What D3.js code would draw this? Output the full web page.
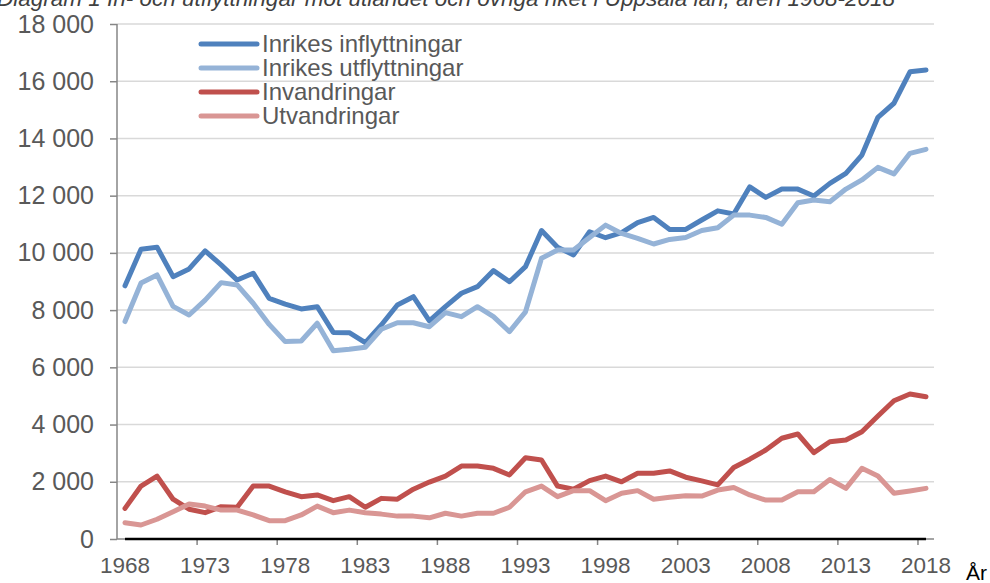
<!DOCTYPE html>
<html>
<head>
<meta charset="utf-8">
<script src="https://cdn.jsdelivr.net/npm/d3@7"></script>
<style>
    body { margin: 0; background: #fff; }
    svg { display: block; font-family: "Liberation Sans", Arial, sans-serif; }
</style>
</head>
<body>
<svg id="chart" width="990" height="583"></svg>
<script>
// categories
const years = [1968, 1969, 1970, 1971, 1972, 1973, 1974, 1975, 1976, 1977, 1978, 1979, 1980, 1981, 1982, 1983, 1984,
    1985, 1986, 1987, 1988, 1989, 1990, 1991, 1992, 1993, 1994, 1995, 1996, 1997, 1998, 1999, 2000, 2001,
    2002, 2003, 2004, 2005, 2006, 2007, 2008, 2009, 2010, 2011, 2012, 2013, 2014, 2015, 2016, 2017, 2018];

// series values
const inrikesInflytt = [8850, 10130, 10200, 9170, 9440, 10070, 9580, 9050, 9290, 8410, 8210, 8040, 8120, 7220, 7210, 6860, 7480,
    8180, 8470, 7620, 8120, 8590, 8820, 9380, 8990, 9520, 10780, 10200, 9930, 10740, 10530, 10710, 11060, 11240,
    10820, 10820, 11150, 11470, 11360, 12310, 11940, 12230, 12230, 11990, 12430, 12780, 13420, 14740, 15230, 16330, 16390];
const inrikesUtflytt = [7600, 8950, 9230, 8130, 7830, 8350, 8960, 8880, 8240, 7500, 6900, 6920, 7540, 6580, 6630, 6700, 7330,
    7560, 7560, 7420, 7910, 7770, 8120, 7770, 7250, 7940, 9810, 10100, 10100, 10540, 10970, 10680, 10510, 10310,
    10470, 10540, 10780, 10880, 11320, 11320, 11240, 11000, 11750, 11850, 11790, 12230, 12550, 12990, 12760, 13480, 13620];
const invandringar = [1070, 1850, 2200, 1390, 1040, 920, 1130, 1110, 1850, 1850, 1650, 1480, 1540, 1340, 1480, 1110, 1420,
    1390, 1740, 1990, 2200, 2550, 2550, 2470, 2240, 2840, 2760, 1850, 1740, 2040, 2200, 2000, 2300, 2300,
    2380, 2160, 2030, 1890, 2500, 2790, 3110, 3520, 3670, 3020, 3400, 3460, 3750, 4300, 4830, 5070, 4970];
const utvandringar = [570, 490, 690, 950, 1220, 1150, 1010, 1010, 840, 640, 640, 840, 1150, 920, 1010, 920, 870,
    800, 800, 740, 900, 800, 900, 900, 1110, 1650, 1850, 1480, 1690, 1690, 1340, 1600, 1690, 1390,
    1460, 1510, 1500, 1710, 1800, 1540, 1360, 1360, 1650, 1650, 2080, 1770, 2470, 2200, 1600, 1680, 1770];

const seriesNames = ["Inrikes inflyttningar", "Inrikes utflyttningar", "Invandringar", "Utvandringar"];
const seriesColors = ["#4F81BD", "#95B3D7", "#C0504D", "#D99694"];

// tick labels
const yTicks = [0, 2000, 4000, 6000, 8000, 10000, 12000, 14000, 16000, 18000];
const xLabelYears = [1968, 1973, 1978, 1983, 1988, 1993, 1998, 2003, 2008, 2013, 2018];

const titleText = "Diagram 1 In- och utflyttningar mot utlandet och övriga riket i Uppsala län, åren 1968-2018";

const svg = d3.select("#chart");

const plotLeft = 117, plotRight = 934, plotTop = 24, plotBottom = 539;

const x = d3.scaleBand().domain(years).range([plotLeft, plotRight]); //one band per year
const xPoint = d => x(d) + x.bandwidth() / 2; //points sit in the middle of the band
const y = d3.scaleLinear().domain([0, 18000]).range([plotBottom, plotTop]);

const fmt = v => d3.format(",")(v).replace(",", "\u00a0"); //swedish thousands separator

//title, cut off at the top like in the source
svg.append("text")
    .attr("x", -3)
    .attr("y", 6)
    .attr("font-size", 22.5)
    .attr("font-style", "italic")
    .attr("fill", "#404040")
    .text(titleText);

//gridlines
svg.append("g")
    .selectAll("line")
    .data(yTicks.filter(d => d > 0))
    .enter().append("line")
    .attr("x1", plotLeft).attr("x2", plotRight)
    .attr("y1", d => y(d)).attr("y2", d => y(d))
    .attr("stroke", "#D9D9D9")
    .attr("stroke-width", 1.5);

//y axis
const yAxis = svg.append("g")
    .attr("transform", `translate(${plotLeft},0)`)
    .call(d3.axisLeft(y).tickValues(yTicks).tickSize(7).tickPadding(16).tickFormat(fmt));
yAxis.select(".domain").attr("stroke", "#868686").attr("stroke-width", 1.5).attr("d", `M0,${plotTop}V${plotBottom}`);
yAxis.selectAll(".tick line").attr("stroke", "#868686").attr("stroke-width", 1.5);
yAxis.selectAll(".tick text")
    .attr("font-size", 25)
    .attr("font-family", "Liberation Sans, Arial, sans-serif")
    .attr("fill", "#595959");

//x axis: ticks between categories every 5 years
svg.append("line")
    .attr("x1", plotLeft).attr("x2", plotRight)
    .attr("y1", plotBottom).attr("y2", plotBottom)
    .attr("stroke", "#868686").attr("stroke-width", 1.5);

svg.append("g")
    .selectAll("line")
    .data(xLabelYears.slice(1))
    .enter().append("line")
    .attr("x1", d => x(d)).attr("x2", d => x(d))
    .attr("y1", plotBottom).attr("y2", plotBottom + 6)
    .attr("stroke", "#868686").attr("stroke-width", 1.5);

//black zero line over the data range
svg.append("line")
    .attr("x1", xPoint(years[0])).attr("x2", xPoint(years[years.length - 1]))
    .attr("y1", plotBottom).attr("y2", plotBottom)
    .attr("stroke", "#000").attr("stroke-width", 2.5);

svg.append("g")
    .selectAll("text")
    .data(xLabelYears)
    .enter().append("text")
    .attr("x", d => xPoint(d))
    .attr("y", 573)
    .attr("text-anchor", "middle")
    .attr("font-size", 22.5)
    .attr("fill", "#595959")
    .text(d => d);

svg.append("text")
    .attr("x", 966)
    .attr("y", 580)
    .attr("font-size", 21)
    .attr("fill", "#000")
    .text("År");

//the four lines
const allSeries = [inrikesInflytt, inrikesUtflytt, invandringar, utvandringar];
const line = d3.line()
    .x((d, i) => xPoint(years[i]))
    .y(d => y(d));

svg.append("g")
    .selectAll("path")
    .data(allSeries)
    .enter().append("path")
    .attr("d", d => line(d))
    .attr("fill", "none")
    .attr("stroke", (d, i) => seriesColors[i])
    .attr("stroke-width", 5)
    .attr("stroke-linejoin", "round")
    .attr("stroke-linecap", "round");

//legend
const legend = svg.append("g")
    .selectAll("g")
    .data(seriesNames)
    .enter().append("g")
    .attr("transform", (d, i) => `translate(201,${44 + i * 24})`);

legend.append("line")
    .attr("x1", 0).attr("x2", 56)
    .attr("stroke", (d, i) => seriesColors[i])
    .attr("stroke-width", 5)
    .attr("stroke-linecap", "round");

legend.append("text")
    .attr("x", 61)
    .attr("y", 8)
    .attr("font-size", 24)
    .attr("fill", "#595959")
    .text(d => d);
</script>
</body>
</html>
